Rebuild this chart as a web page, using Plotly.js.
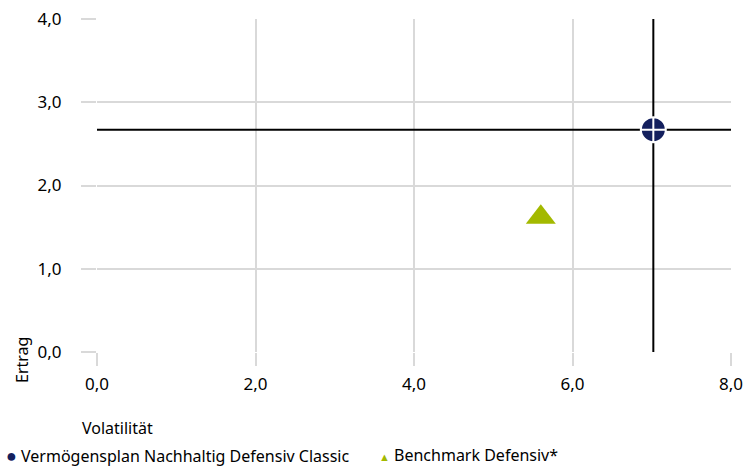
<!DOCTYPE html>
<html><head><meta charset="utf-8">
<script src="https://cdn.plot.ly/plotly-3.0.1.min.js"></script>
<style>body{margin:0;padding:0;background:#fff}#c{width:747px;height:466px}</style>
</head><body><div id="c"></div>
<script>
const seriesNames = ["Vermögensplan Nachhaltig Defensiv Classic", "Benchmark Defensiv*"];
const seriesColors = ["#14205e", "#a3b900"];
const legendGlyphs = ["●", "▲"];
const volatility = [7.02, 5.60];
const returns = [2.67, 1.62];
const xTicks = [0, 2, 4, 6, 8];
const yTicks = [0, 1, 2, 3, 4];
const xTickLabels = ["0,0", "2,0", "4,0", "6,0", "8,0"];
const yTickLabels = ["0,0", "1,0", "2,0", "3,0", "4,0"];

const font = "Noto Sans, Open Sans, sans-serif";
const traces = [
  {x: [0, 8], y: [returns[0], returns[0]], mode: "lines", line: {color: "#000", width: 2}, showlegend: false, hoverinfo: "skip"},
  {x: [volatility[0], volatility[0]], y: [0, 4], mode: "lines", line: {color: "#000", width: 2}, showlegend: false, hoverinfo: "skip"},
  {x: [volatility[0]], y: [returns[0]], mode: "markers", name: seriesNames[0], showlegend: false,
   marker: {symbol: "circle-cross", size: 25, color: seriesColors[0], line: {color: "#fff", width: 2}}},
  {x: [volatility[1]], y: [returns[1]], mode: "markers", name: seriesNames[1], showlegend: false,
   marker: {symbol: "triangle-up", size: 26, color: seriesColors[1], line: {width: 0}}}
];
const W = 634, H = 333, L = 97, T = 19;
const px = (p) => (p - L) / W;
const py = (p) => (T + H - p) / H;
const legendX = [4, 377];
const glyphSizes = [18, 11];
const annotations = [
  {text: "Volatilität", xref: "paper", yref: "paper", x: px(80), y: py(428), xanchor: "left", yanchor: "middle", showarrow: false, font: {size: 16}},
  {text: "Ertrag", xref: "paper", yref: "paper", x: px(22), y: py(360), xanchor: "center", yanchor: "middle", textangle: -90, showarrow: false, font: {size: 16}}
];
seriesNames.forEach((n, i) => {
  annotations.push({
    text: `<span style="color:${seriesColors[i]};font-size:${glyphSizes[i]}px">${legendGlyphs[i]}</span> ${n}`,
    xref: "paper", yref: "paper", x: px(legendX[i]), y: py(455), xanchor: "left", yanchor: "middle",
    showarrow: false, font: {size: 16}
  });
});
const layout = {
  width: 747, height: 466,
  margin: {l: L, r: 16, t: T, b: 114},
  paper_bgcolor: "#fff", plot_bgcolor: "#fff",
  font: {family: font, size: 16, color: "#000"},
  xaxis: {range: [0, 8], tickvals: xTicks, ticktext: xTickLabels, showgrid: true, gridcolor: "#d9d9d9", gridwidth: 2,
    zeroline: false, showline: false, ticks: "outside", ticklen: 13, tickwidth: 2, tickcolor: "#d9d9d9", ticklabelstandoff: 4,
    tickfont: {size: 17}, automargin: false},
  yaxis: {range: [0, 4], tickvals: yTicks, ticktext: yTickLabels, showgrid: true, gridcolor: "#d9d9d9", gridwidth: 2,
    zeroline: false, showline: false, ticks: "outside", ticklen: 15, tickwidth: 2, tickcolor: "#d9d9d9", ticklabelstandoff: 16,
    tickfont: {size: 17}, automargin: false},
  showlegend: false,
  annotations: annotations
};
Plotly.newPlot("c", traces, layout, {displayModeBar: false, staticPlot: true});
</script></body></html>
